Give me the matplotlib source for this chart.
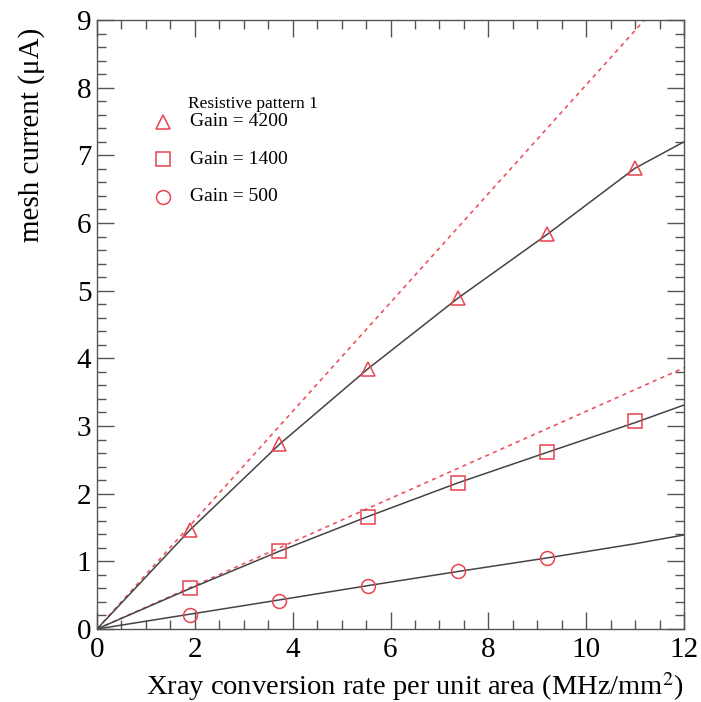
import matplotlib.pyplot as plt
import matplotlib as mpl
from matplotlib.ticker import MultipleLocator

mpl.rcParams['font.family'] = ['Liberation Serif', 'DejaVu Serif']
mpl.rcParams['mathtext.fontset'] = 'stix'

# measured points
rate = [1.91, 3.73, 5.53, 7.38, 9.20, 11.00]
gain_4200 = [1.47, 2.73, 3.84, 4.89, 5.84, 6.81]
gain_1400 = [0.60, 1.15, 1.66, 2.16, 2.62, 3.07]
gain_500 = [0.21, 0.42, 0.64, 0.85, 1.05]

# fitted curves
fit_x = [0, 1.91, 3.73, 5.53, 7.38, 9.20, 11.00, 12.0]
fit_4200 = [0, 1.47, 2.73, 3.84, 4.89, 5.83, 6.81, 7.20]
fit_1400 = [0, 0.60, 1.15, 1.66, 2.16, 2.61, 3.05, 3.31]
fit_500 = [0, 0.22, 0.43, 0.64, 0.85, 1.05, 1.26, 1.39]

# linear extrapolation (red dashed)
lin_x = [0, 12.0]
lin_4200 = [0, 9.65]
lin_1400 = [0, 3.86]

red = '#e8434f'

fig = plt.figure(figsize=(7.01, 7.02), dpi=100)
ax = fig.add_axes([97 / 701, 1 - 629 / 702, 587 / 701, 609 / 702])

ax.plot(lin_x, lin_4200, ls=(0, (2.5, 2.5)), color=red, lw=1.2, alpha=0.9)
ax.plot(lin_x, lin_1400, ls=(0, (2.5, 2.5)), color=red, lw=1.2, alpha=0.9)

for fy in (fit_4200, fit_1400, fit_500):
    ax.plot(fit_x, fy, color='#444444', lw=1.1)

mk = dict(ls='none', mfc='none', mec=red, ms=10, mew=1.1)
ax.plot(rate, gain_4200, marker='^', **mk)
ax.plot(rate, gain_1400, marker='s', **mk)
ax.plot(rate[:5], gain_500, marker='o', **mk)

ax.set_xlim(0, 12)
ax.set_ylim(0, 9)
ax.xaxis.set_major_locator(MultipleLocator(2))
ax.xaxis.set_minor_locator(MultipleLocator(0.5))
ax.yaxis.set_major_locator(MultipleLocator(1))
ax.yaxis.set_minor_locator(MultipleLocator(0.2))
ax.tick_params(which='both', direction='in', top=True, right=True,
               color='#555555', width=1.0, labelsize=21)
ax.tick_params(which='major', length=12)
ax.tick_params(which='minor', length=6.5)
ax.tick_params(axis='x', pad=6)
ax.tick_params(axis='y', pad=4)
for s in ax.spines.values():
    s.set_color('#555555')
    s.set_linewidth(1.0)

# ROOT-style axis titles, aligned to the end of the axis
ax.set_xlabel('Xray conversion rate per unit area (MHz/mm$^2$)', fontsize=20.5, ha='right')
ax.xaxis.set_label_coords(1.0, -0.067)
ax.set_ylabel('mesh current (μA)', fontsize=21, ha='right')
ax.yaxis.set_label_coords(-0.088, 0.988)

# legend by hand
ax.text(0.155, 0.855, 'Resistive pattern 1', transform=ax.transAxes, fontsize=12.5)
rows = [('^', 'Gain = 4200'), ('s', 'Gain = 1400'), ('o', 'Gain = 500')]
for i, (m, lab) in enumerate(rows):
    yy = 0.833 - i * 0.0616
    ax.plot([0.112], [yy], transform=ax.transAxes, marker=m, **mk)
    ax.text(0.158, yy, lab, transform=ax.transAxes, fontsize=14, va='center')

fig.savefig('out.png', dpi=100)
